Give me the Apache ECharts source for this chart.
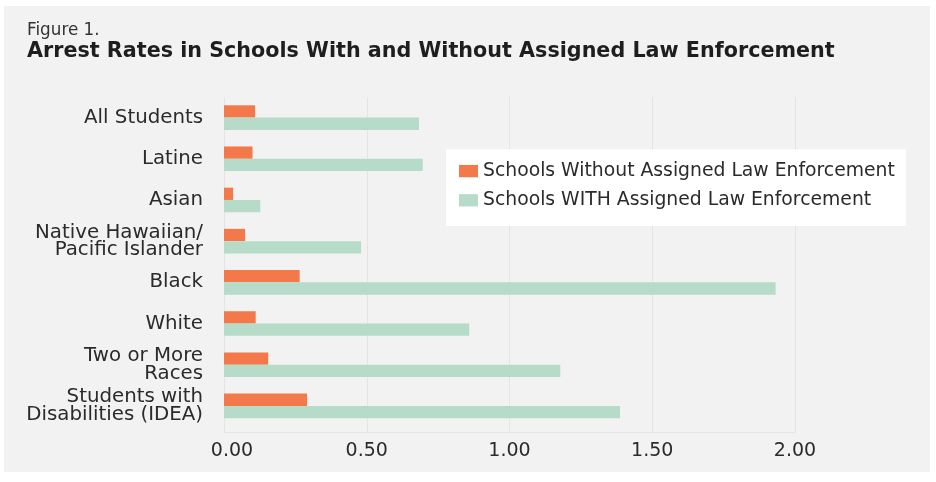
<!DOCTYPE html>
<html>
<head>
<meta charset="utf-8">
<title>Arrest Rates in Schools</title>
<script src="https://cdn.jsdelivr.net/npm/echarts@6/dist/echarts.min.js"></script>
<style>
  html, body { margin: 0; padding: 0; background: #fff; }
  #panel { position: absolute; left: 4px; top: 6px; width: 926px; height: 466px; background: #f2f2f2; }
  #main { position: absolute; left: 0; top: 0; width: 936px; height: 482px; }
</style>
</head>
<body>
<div id="panel"></div>
<div id="main"></div>
<script>
var categories = [
  'All Students',
  'Latine',
  'Asian',
  'Native Hawaiian/\nPacific Islander',
  'Black',
  'White',
  'Two or More\nRaces',
  'Students with\nDisabilities (IDEA)'
];
var seriesNames = [
  'Schools Without Assigned Law Enforcement',
  'Schools WITH Assigned Law Enforcement'
];
var withoutSRO = [0.109, 0.100, 0.032, 0.074, 0.265, 0.111, 0.155, 0.291];
var withSRO = [0.683, 0.696, 0.127, 0.480, 1.932, 0.859, 1.178, 1.387];

var font = 'DejaVu Sans';
var textColor = '#2b2b2b';
var myChart = echarts.init(document.getElementById('main'));

var option = {
  animation: false,
  title: [
    {
      text: 'Figure 1.',
      left: 27, top: 22, padding: 0,
      textStyle: { fontFamily: font, fontSize: 16.8, fontWeight: 'normal', color: '#333' }
    },
    {
      text: 'Arrest Rates in Schools With and Without Assigned Law Enforcement',
      left: 27, top: 41, padding: 0,
      textStyle: { fontFamily: font, fontSize: 20.7, fontWeight: 'bold', color: '#1e1e1e' }
    }
  ],
  legend: {
    data: seriesNames,
    orient: 'vertical',
    left: 446, top: 149.3,
    padding: [11.8, 11, 15.7, 13],
    backgroundColor: '#ffffff',
    icon: 'rect',
    itemWidth: 19, itemHeight: 12.3,
    itemGap: 9.2,
    textStyle: { fontFamily: font, fontSize: 18.8, lineHeight: 20, color: textColor }
  },
  grid: [
    // bars
    { left: 224, top: 97, width: 571, height: 329.5 },
    // split lines and tick labels
    { left: 224, top: 97, width: 571, height: 335 }
  ],
  xAxis: [
    {
      gridIndex: 0, type: 'value', min: 0, max: 2, interval: 0.5,
      show: false
    },
    {
      gridIndex: 1, type: 'value', min: 0, max: 2, interval: 0.5,
      axisLine: { show: true, lineStyle: { color: '#e4e4e4', width: 1 } },
      axisTick: { show: false },
      splitLine: { show: true, lineStyle: { color: '#e4e4e4', width: 1 } },
      axisLabel: {
        margin: 10,
        fontFamily: font, fontSize: 19, color: textColor,
        formatter: function (v) {
          return v === 0 ? '{first|' + v.toFixed(2) + '}' : v.toFixed(2);
        },
        rich: {
          first: { fontFamily: font, fontSize: 19, color: textColor, padding: [0, 0, 0, 16] }
        }
      }
    }
  ],
  yAxis: [
    {
      gridIndex: 0, type: 'category', data: categories, inverse: true,
      axisLine: { show: false },
      axisTick: { show: false },
      splitLine: { show: false },
      axisLabel: {
        margin: 21,
        fontFamily: font, fontSize: 19.8, lineHeight: 17.5, color: textColor,
        align: 'right'
      }
    },
    { gridIndex: 1, type: 'value', show: false }
  ],
  series: [
    {
      name: seriesNames[0], type: 'bar',
      xAxisIndex: 0, yAxisIndex: 0,
      barWidth: 12.3, barGap: '0%',
      itemStyle: { color: '#f3794b' },
      data: withoutSRO
    },
    {
      name: seriesNames[1], type: 'bar',
      xAxisIndex: 0, yAxisIndex: 0,
      barWidth: 12.3, barGap: '0%',
      itemStyle: { color: '#b6dbc8' },
      data: withSRO
    }
  ]
};
myChart.setOption(option);
</script>
</body>
</html>
